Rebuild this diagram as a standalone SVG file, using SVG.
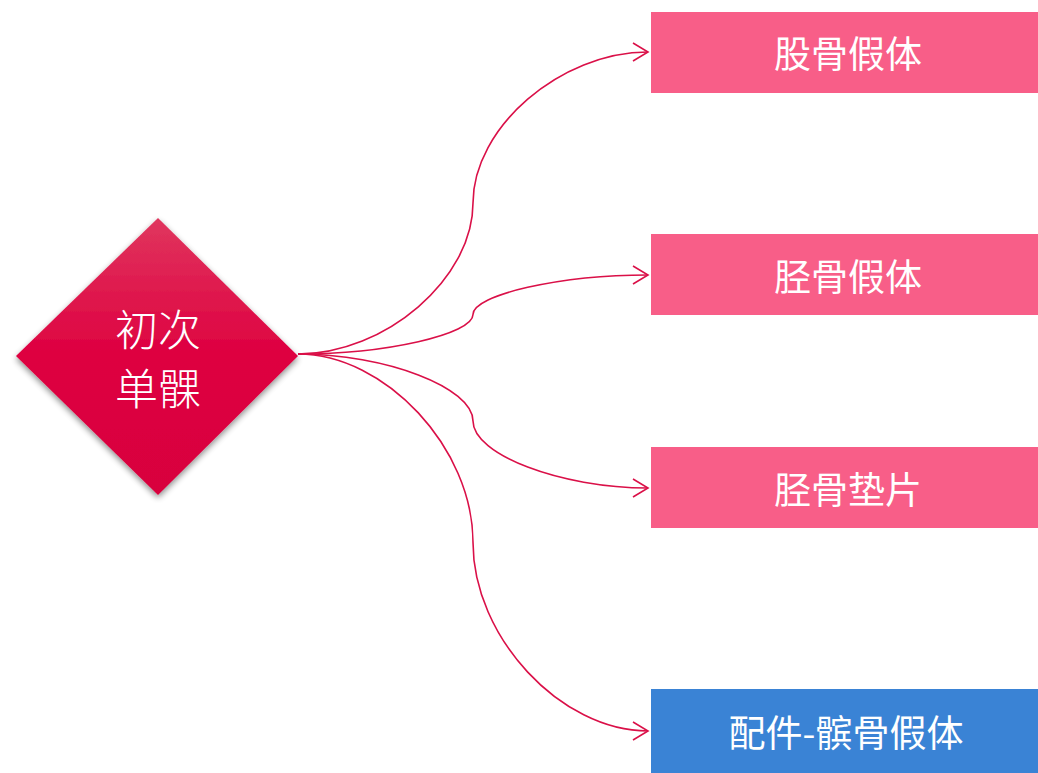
<svg xmlns="http://www.w3.org/2000/svg" width="1038" height="773" viewBox="0 0 1038 773">
<style>
.box{fill:#F85E88}
.blue{fill:#3A83D5}
.lbl{font-family:"Noto Sans CJK SC","Noto Sans",sans-serif;font-size:37px;fill:#fff;text-anchor:middle;dominant-baseline:central}
.dlbl{font-family:"Noto Sans CJK SC","Noto Sans",sans-serif;font-weight:300;font-size:43px;fill:#fff;text-anchor:middle;dominant-baseline:central}
.con{fill:none;stroke:#DA1048;stroke-width:1.6;marker-end:url(#arr)}
</style>
<defs>
<linearGradient id="dg" x1="0" y1="0" x2="0" y2="1">
<stop offset="0" stop-color="#E0365E"/>
<stop offset="0.5" stop-color="#DE0040"/>
<stop offset="1" stop-color="#D8003E"/>
</linearGradient>
<filter id="sh" x="-20%" y="-20%" width="140%" height="140%">
<feGaussianBlur in="SourceAlpha" stdDeviation="3"/>
<feOffset dx="0" dy="3" result="b"/>
<feComponentTransfer><feFuncA type="linear" slope="0.45"/></feComponentTransfer>
<feMerge><feMergeNode/><feMergeNode in="SourceGraphic"/></feMerge>
</filter>
<marker id="arr" markerWidth="20" markerHeight="20" refX="16" refY="10" orient="auto" markerUnits="userSpaceOnUse">
<path d="M1,1 L16,10 L1,19" fill="none" stroke="#DA1048" stroke-width="1.6"/>
</marker>
</defs>
<g id="connectors">
<path class="con" d="M298,354 C385.5,354 473,278.5 473,203 C473,127.5 560.5,52 648,52"/>
<path class="con" d="M298,354 C385.5,354 473,334.25 473,314.5 C473,294.75 560.5,275 648,275"/>
<path class="con" d="M298,354 C385.5,354 473,387.5 473,421 C473,454.5 560.5,488 648,488"/>
<path class="con" d="M298,354 C385.5,354 473,448.25 473,542.5 C473,636.75 560.5,731 648,731"/>
</g>
<g id="node-center">
<path d="M158,218 L298,356 L158,495 L16,356 Z" fill="url(#dg)" filter="url(#sh)"/>
<text class="dlbl" x="158" y="327">初次</text>
<text class="dlbl" x="158" y="386">单髁</text>
</g>
<g id="node-1">
<rect class="box" x="651" y="12" width="387" height="81"/>
<text class="lbl" x="848" y="52">股骨假体</text>
</g>
<g id="node-2">
<rect class="box" x="651" y="234" width="387" height="81"/>
<text class="lbl" x="848" y="275">胫骨假体</text>
</g>
<g id="node-3">
<rect class="box" x="651" y="447" width="387" height="81"/>
<text class="lbl" x="848" y="488">胫骨垫片</text>
</g>
<g id="node-4">
<rect class="blue" x="651" y="689" width="387" height="84"/>
<text class="lbl" x="846" y="731">配件-髌骨假体</text>
</g>
</svg>
